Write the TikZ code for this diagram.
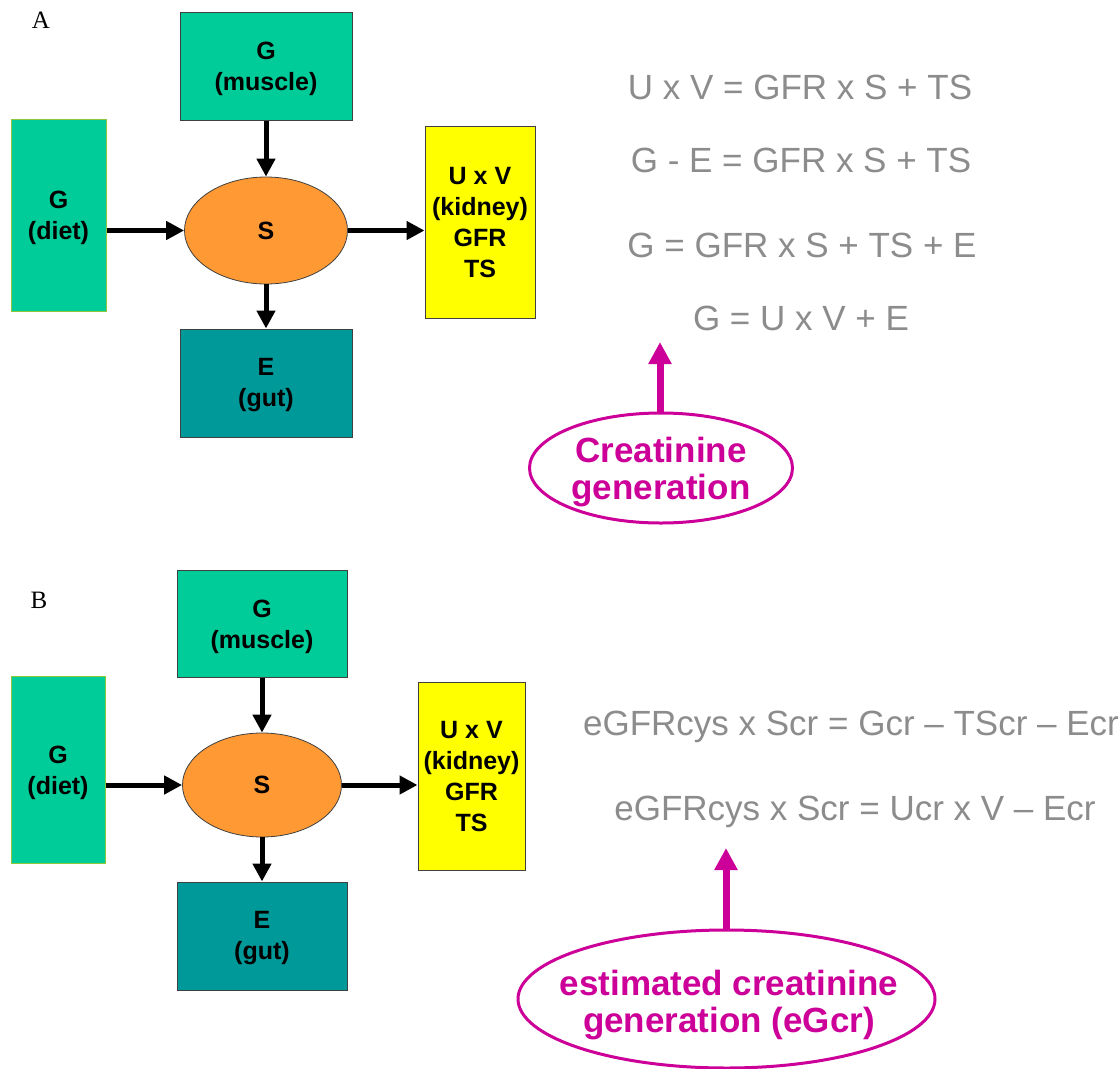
\documentclass[tikz,border=0pt]{standalone}
\usepackage{fontspec}
\setmainfont{Liberation Sans}
\newfontfamily\labfont{Liberation Serif}
\usetikzlibrary{shapes.geometric,arrows.meta}
\definecolor{musclegreen}{RGB}{0,204,153}
\definecolor{gutteal}{RGB}{0,153,153}
\definecolor{sorange}{RGB}{255,153,51}
\definecolor{kidyellow}{RGB}{255,255,0}
\definecolor{magent}{RGB}{204,0,153}
\definecolor{eqgray}{RGB}{140,140,140}
\definecolor{edgegray}{RGB}{64,64,64}
\definecolor{dietedge}{RGB}{140,200,60}
\tikzset{
  boxtext/.style={font=\bfseries\fontsize{25}{31}\selectfont, align=center, inner sep=0pt},
  gbox/.style={rectangle, draw=edgegray, line width=1pt, fill=musclegreen, inner sep=0pt},
  dietbox/.style={rectangle, draw=dietedge, line width=1pt, fill=musclegreen, inner sep=0pt},
  tbox/.style={rectangle, draw=edgegray, line width=1pt, fill=gutteal, inner sep=0pt},
  ybox/.style={rectangle, draw=edgegray, line width=1pt, fill=kidyellow, inner sep=0pt},
  sell/.style={boxtext, ellipse, draw=edgegray, line width=0.8pt, fill=sorange},
  flow/.style={line width=5pt, -{Triangle[length=18pt,width=18pt]}},
  eqtext/.style={text=eqgray, font=\fontsize{35}{40}\selectfont, inner sep=0pt},
  genell/.style={ellipse, draw=magent, line width=3pt, inner sep=0pt},
  gentext/.style={text=magent, align=center, font=\bfseries\fontsize{35}{37}\selectfont, inner sep=0pt},
  genarrow/.style={draw=magent, line width=7pt, -{Triangle[length=22pt,width=22pt]}, color=magent},
  panellabel/.style={font=\labfont\fontsize{25}{27}\selectfont, inner sep=0pt}
}
\begin{document}
\begin{tikzpicture}[x=1pt,y=-1pt]
\useasboundingbox (0,0) rectangle (1120,1069);
\fill[white] (0,0) rectangle (1120,1069);

% ---------- Panel A ----------
\node[panellabel] (labA) at (41,20) {A};
\node[gbox, minimum width=172pt, minimum height=108pt] (muscleA) at (266,66) {};
\node[boxtext] (muscleAt) at ([yshift=-3pt]muscleA.center) {G\\(muscle)};
\node[dietbox, minimum width=95pt, minimum height=192pt] (dietA) at (58.5,215) {};
\node[boxtext] (dietAt) at ([yshift=-3pt]dietA.center) {G\\(diet)};
\node[sell, minimum width=163pt, minimum height=107pt] (SA) at (266,230.5) {S};
\node[ybox, minimum width=110pt, minimum height=192pt] (kidA) at (480,222) {};
\node[boxtext] (kidAt) at ([yshift=-1pt]kidA.center) {U x V\\(kidney)\\GFR\\TS};
\node[tbox, minimum width=172pt, minimum height=108pt] (gutA) at (266,383) {};
\node[boxtext] (gutAt) at ([yshift=-2pt]gutA.center) {E\\(gut)};

\draw[flow] (muscleA.south) -- (muscleA.south |- SA.north);
\draw[flow] (dietA.east |- SA.west) -- (SA.west);
\draw[flow] (SA.east) -- (SA.east -| kidA.west);
\draw[flow] (SA.south) -- (SA.south |- gutA.north);

\node[eqtext] (eqA1) at (800,87) {U x V = GFR x S + TS};
\node[eqtext] (eqA2) at (801,160) {G - E = GFR x S + TS};
\node[eqtext] (eqA3) at (802,245) {G = GFR x S + TS + E};
\node[eqtext] (eqA4) at (801,318) {G = U x V + E};

\node[genell, minimum width=263pt, minimum height=110pt] (genA) at (661,468) {};
\node[gentext] (genAtext) at (661,472) {Creatinine\\generation};
\coordinate (tipA) at (660,342);
\draw[genarrow] (genA.north -| tipA) -- (tipA);

% ---------- Panel B ----------
\node[panellabel] (labB) at (39,600) {B};
\node[gbox, minimum width=170pt, minimum height=107pt] (muscleB) at (262,623.5) {};
\node[boxtext] (muscleBt) at ([yshift=-3pt]muscleB.center) {G\\(muscle)};
\node[dietbox, minimum width=94pt, minimum height=187pt] (dietB) at (58,769.5) {};
\node[boxtext] (dietBt) at ([yshift=-3pt]dietB.center) {G\\(diet)};
\node[sell, minimum width=159pt, minimum height=104pt] (SB) at (262,785) {S};
\node[ybox, minimum width=107pt, minimum height=188pt] (kidB) at (471.5,776) {};
\node[boxtext] (kidBt) at ([yshift=-1pt]kidB.center) {U x V\\(kidney)\\GFR\\TS};
\node[tbox, minimum width=170pt, minimum height=108pt] (gutB) at (262,936) {};
\node[boxtext] (gutBt) at ([yshift=-2pt]gutB.center) {E\\(gut)};

\draw[flow] (muscleB.south) -- (muscleB.south |- SB.north);
\draw[flow] (dietB.east |- SB.west) -- (SB.west);
\draw[flow] (SB.east) -- (SB.east -| kidB.west);
\draw[flow] (SB.south) -- (SB.south |- gutB.north);

\node[eqtext] (eqB1) at (851,727) {eGFRcys x Scr = Gcr – TScr – Ecr};
\node[eqtext] (eqB2) at (855,812) {eGFRcys x Scr = Ucr x V – Ecr};

\node[genell, minimum width=417pt, minimum height=138pt] (genB) at (726.5,999) {};
\node[gentext] (genBtext) at (729,1005) {estimated creatinine\\generation (eGcr)};
\coordinate (tipB) at (726,848);
\draw[genarrow] (genB.north -| tipB) -- (tipB);
\end{tikzpicture}
\end{document}
